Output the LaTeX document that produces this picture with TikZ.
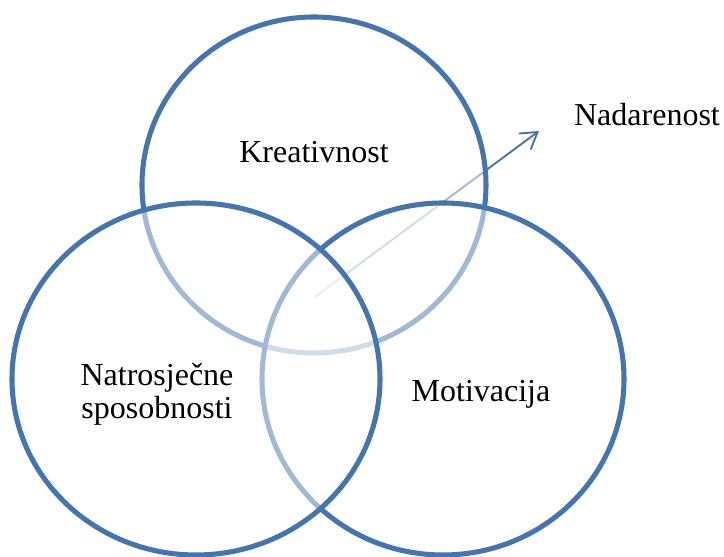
\documentclass[tikz,border=0pt]{standalone}
\usepackage{fontspec}
\setmainfont{Liberation Serif}
\usetikzlibrary{arrows.meta}
\definecolor{ringblue}{RGB}{70,116,172}

\begin{document}
\begin{tikzpicture}[x=0.375pt,y=-0.375pt,
  ring/.style={draw=ringblue, line width=1.9pt, fill=white, fill opacity=0.5},
  lbl/.style={font=\fontsize{12}{12.4}\selectfont, align=center, text=black}]
  \useasboundingbox (0,0) rectangle (724,557);

  % arrow sits under the rings
  \coordinate (from) at (315,297);
  \coordinate (tip) at (539,131);
  \draw[ringblue, line width=0.7pt, -{Straight Barb[length=6pt,width=7.5pt]}] (from)--(tip);

  \draw[ring] (314,185) ellipse [x radius=172, y radius=168];
  \draw[ring] (443,379) ellipse [x radius=181, y radius=176];
  \draw[ring] (196,379) ellipse [x radius=184, y radius=176];

  \node[lbl] (kreativnost) at (314,152) {Kreativnost};
  \node[lbl] (prosjek) at (157,394) {Natrosječne\\sposobnosti};
  \node[lbl] (motivacija) at (481,394) {Motivacija};
  \node[lbl] (nadarenost) at (647,115) {Nadarenost};
\end{tikzpicture}
\end{document}
